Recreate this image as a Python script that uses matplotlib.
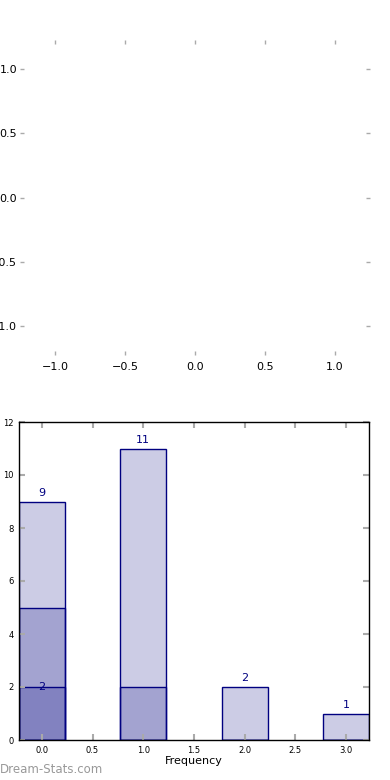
import matplotlib
matplotlib.use("Agg")
import matplotlib.pyplot as plt

# ── Data ─────────────────────────────────────────────────────────────────────
positions = [0, 1, 2, 3]
totals    = [9, 11, 2, 1]
middle    = [5, 2, 0, 0]
inner     = [2, 0, 0, 0]
top_ticks = [-1.0, -0.5, 0.0, 0.5, 1.0]
bar_ticks = [0.0, 0.5, 1.0, 1.5, 2.0, 2.5, 3.0]
y_ticks   = [0, 2, 4, 6, 8, 10, 12]

NAVY = "#000080"
TICK = "#aaaaaa"

fig = plt.figure(figsize=(3.9, 7.8), dpi=100)

# ── Top: empty frameless axes ───────────────────────────────────────────────
ax1 = fig.add_axes([20/390, 425/780, 350/390, 315/780])
ax1.set_xlim(-1.25, 1.25)
ax1.set_ylim(-1.23, 1.23)
for s in ax1.spines.values():
    s.set_visible(False)
ax1.set_xticks(top_ticks)
ax1.set_yticks(top_ticks)
ax1.tick_params(direction="in", length=3, width=1, color=TICK, labelsize=8,
                top=True, right=True, pad=5)
ax1.tick_params(axis="y", pad=2)

# ── Bottom: overlapping bars ────────────────────────────────────────────────
ax2 = fig.add_axes([19/390, 40/780, 350/390, 318/780])
for vals in (totals, middle, inner):
    ax2.bar(positions, vals, width=0.45, color=NAVY, alpha=0.2)
    ax2.bar(positions, vals, width=0.45, fill=False, edgecolor=NAVY, linewidth=1)
for x, v in zip(positions, totals):
    ax2.text(x, v + 0.15, str(v), ha="center", va="bottom", fontsize=8, color=NAVY)
for x, v in zip(positions, inner):
    if v:
        ax2.text(x, v, str(v), ha="center", va="center", fontsize=8, color=NAVY)

ax2.set_xlim(-0.225, 3.225)
ax2.set_ylim(0, 12)
ax2.set_xticks(bar_ticks)
ax2.set_yticks(y_ticks)
ax2.set_xticklabels([f"{t:.1f}" for t in bar_ticks])
ax2.tick_params(direction="in", length=4, width=1.5, color=TICK, labelsize=6,
                top=True, right=True, pad=4)
ax2.set_xlabel("Frequency", fontsize=8, labelpad=1)
for s in ax2.spines.values():
    s.set_linewidth(1)

fig.text(0.0, 4/780, "Dream-Stats.com", fontsize=8.5, color="#999999",
         ha="left", va="bottom")

plt.savefig("out.png", dpi=100)
plt.close()
